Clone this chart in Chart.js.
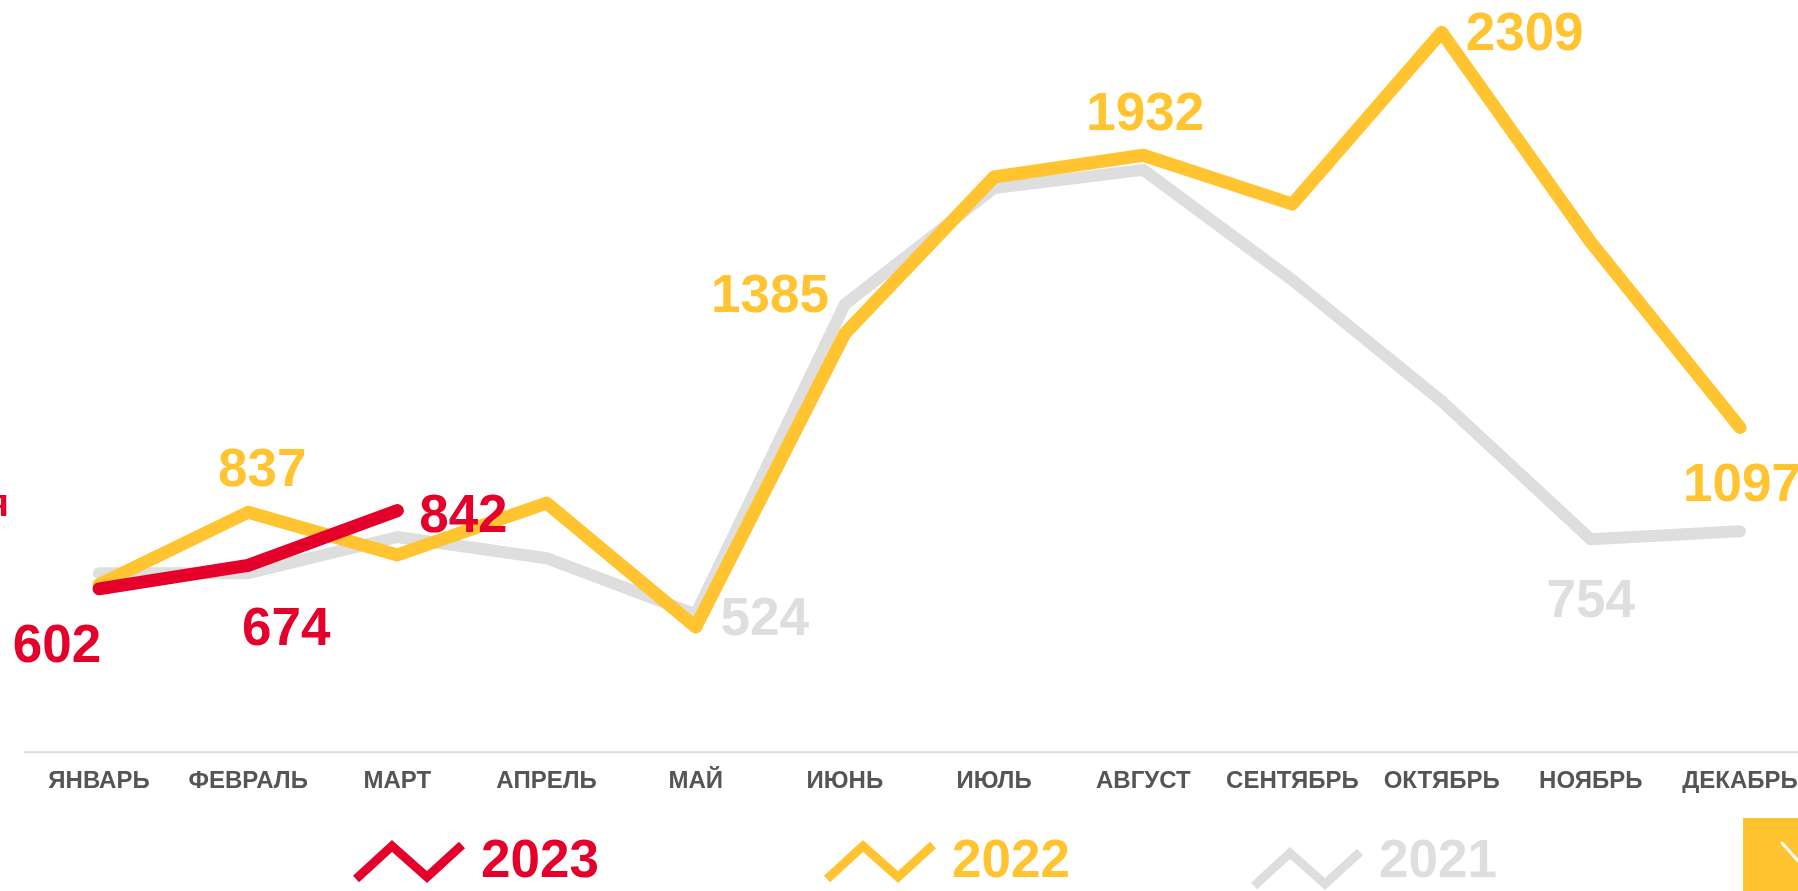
<!DOCTYPE html>
<html>
<head>
<meta charset="utf-8">
<script src="https://cdn.jsdelivr.net/npm/chart.js@4/dist/chart.umd.min.js"></script>
<style>
  html, body { margin: 0; padding: 0; background: #ffffff; overflow: hidden; }
  #wrap { width: 1798px; height: 891px; position: relative; }
</style>
</head>
<body>
<div id="wrap"><canvas id="c" width="1798" height="891"></canvas></div>
<script>
// ---- data ----
const months = ['ЯНВАРЬ', 'ФЕВРАЛЬ', 'МАРТ', 'АПРЕЛЬ', 'МАЙ', 'ИЮНЬ', 'ИЮЛЬ', 'АВГУСТ', 'СЕНТЯБРЬ', 'ОКТЯБРЬ', 'НОЯБРЬ', 'ДЕКАБРЬ'];
const seriesNames = ['2023', '2022', '2021'];
const values2023 = [602, 674, 842];
const values2022 = [615, 837, 706, 865, 485, 1385, 1865, 1932, 1782, 2309, 1665, 1097];
const values2021 = [650, 650, 761, 696, 524, 1475, 1831, 1887, 1549, 1178, 754, 779];
const labeled2023 = [0, 1, 2];
const labeled2022 = [1, 5, 7, 9, 11];
const labeled2021 = [4, 10];

// ---- styles ----
const FONT = '"Liberation Sans", Arial, Helvetica, sans-serif';
const RED = '#E4002B';
const YELLOW = '#FFC430';
const GRAY = '#DEDEDE';

// label offsets (px from the point to label centre), per dataset, per index
const labelOffsets = [
  { 0: [-42, 54], 1: [38, 60], 2: [66, 2] },
  { 1: [14, -46], 5: [-75, -41], 7: [2, -45], 9: [83, -2], 11: [2, 54] },
  { 4: [69, 1], 10: [0, 58] }
];
const labelShiftY = 5;
const labeledIdx = [labeled2023, labeled2022, labeled2021];

const axisLinePlugin = {
  id: 'axisLine',
  beforeDatasetsDraw(chart) {
    const ctx = chart.ctx;
    const y = chart.chartArea.bottom;
    ctx.save();
    ctx.strokeStyle = '#DDDDDD';
    ctx.lineWidth = 2;
    ctx.beginPath();
    ctx.moveTo(24, y);
    ctx.lineTo(1798, y);
    ctx.stroke();
    ctx.restore();
  }
};

const dataLabelPlugin = {
  id: 'dataLabels',
  afterDatasetsDraw(chart) {
    const ctx = chart.ctx;
    ctx.save();
    ctx.font = 'bold 53px ' + FONT;
    ctx.textAlign = 'center';
    ctx.textBaseline = 'middle';
    chart.data.datasets.forEach((ds, di) => {
      const meta = chart.getDatasetMeta(di);
      labeledIdx[di].forEach(i => {
        const pt = meta.data[i];
        if (!pt) return;
        const off = labelOffsets[di][i] || [0, -40];
        ctx.fillStyle = ds.borderColor;
        ctx.fillText(String(ds.data[i]), pt.x + off[0], pt.y + off[1] + labelShiftY);
      });
    });
    ctx.restore();
  }
};

const legendPos = [
  { x: 352, dy: 0 },
  { x: 823, dy: 0 },
  { x: 1250, dy: 7 }
];

const legendPlugin = {
  id: 'zigLegend',
  afterDraw(chart) {
    const ctx = chart.ctx;
    ctx.save();
    chart.data.datasets.forEach((ds, di) => {
      const p = legendPos[di];
      const x0 = p.x, dy = p.dy;
      ctx.strokeStyle = ds.borderColor;
      ctx.lineWidth = 9;
      ctx.lineJoin = 'miter';
      ctx.lineCap = 'butt';
      ctx.beginPath();
      ctx.moveTo(x0 + 4, 879 + dy);
      ctx.lineTo(x0 + 40, 846 + dy);
      ctx.lineTo(x0 + 75, 877 + dy);
      ctx.lineTo(x0 + 110, 845 + dy);
      ctx.stroke();
      ctx.fillStyle = ds.borderColor;
      ctx.font = 'bold 53px ' + FONT;
      ctx.textAlign = 'left';
      ctx.textBaseline = 'alphabetic';
      ctx.fillText(ds.label, x0 + 129, 877);
    });
    ctx.restore();
  }
};

const decorPlugin = {
  id: 'decor',
  afterDraw(chart) {
    const ctx = chart.ctx;
    ctx.save();
    ctx.fillStyle = YELLOW;
    ctx.fillRect(1743, 818, 55, 73);
    ctx.strokeStyle = '#FFFFFF';
    ctx.lineWidth = 3;
    ctx.lineCap = 'round';
    ctx.beginPath();
    ctx.moveTo(1782, 843);
    ctx.lineTo(1800, 863);
    ctx.stroke();
    ctx.fillStyle = RED;
    ctx.font = 'bold 38px ' + FONT;
    ctx.textAlign = 'right';
    ctx.textBaseline = 'alphabetic';
    ctx.fillText('я', 9, 516);
    ctx.restore();
  }
};

new Chart(document.getElementById('c'), {
  type: 'line',
  data: {
    labels: months,
    datasets: [
      { label: seriesNames[0], data: values2023, borderColor: RED, borderWidth: 13 },
      { label: seriesNames[1], data: values2022, borderColor: YELLOW, borderWidth: 13 },
      { label: seriesNames[2], data: values2021, borderColor: GRAY, borderWidth: 12 }
    ]
  },
  options: {
    responsive: false,
    animation: false,
    devicePixelRatio: 1,
    layout: { padding: { left: 99, right: 58, top: 0, bottom: 80 } },
    elements: {
      line: { tension: 0, borderCapStyle: 'round', borderJoinStyle: 'round', fill: false },
      point: { radius: 0, hoverRadius: 0 }
    },
    datasets: { line: { clip: false } },
    plugins: { legend: { display: false }, tooltip: { enabled: false } },
    scales: {
      x: {
        offset: false,
        grid: { display: false, drawTicks: false },
        border: { display: false },
        afterFit(scale) { scale.paddingLeft = 0; scale.paddingRight = 0; },
        ticks: {
          color: '#555555',
          font: { family: FONT, size: 24, weight: 'bold' },
          padding: 15,
          maxRotation: 0,
          autoSkip: false
        }
      },
      y: { display: false, min: 101, max: 2408 }
    }
  },
  plugins: [axisLinePlugin, dataLabelPlugin, legendPlugin, decorPlugin]
});
</script>
</body>
</html>
